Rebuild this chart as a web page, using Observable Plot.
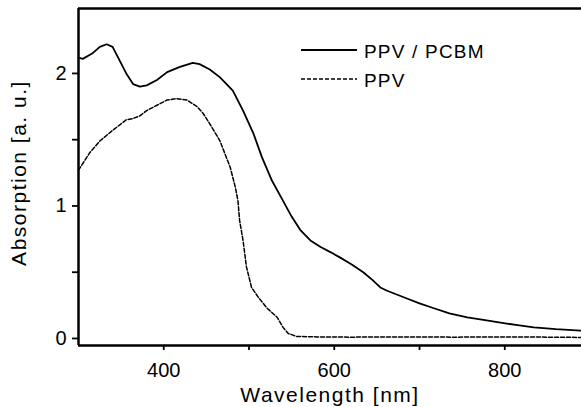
<!DOCTYPE html>
<html>
<head>
<meta charset="utf-8">
<script src="https://cdn.jsdelivr.net/npm/d3@7"></script>
<script src="https://cdn.jsdelivr.net/npm/@observablehq/plot@0.6"></script>
<style>
  html, body { margin: 0; padding: 0; background: #fff; }
  svg text { font-family: "Liberation Sans", Arial, sans-serif; }
</style>
</head>
<body>
<div id="chart"></div>
<script>
// PPV / PCBM (solid)
const wlBlend = [300,305,316,325,333,340,348,356,364,372,380,392,404,419,434,442,454,466,481,493,505,515,527,539,550,560,572,584,596,607,620,634,645,654,662,674,686,700,716,735,756,775,795,815,834,860,889];
const absBlend = [2.12,2.11,2.15,2.20,2.22,2.20,2.10,2.00,1.92,1.90,1.91,1.95,2.01,2.05,2.08,2.07,2.03,1.97,1.87,1.72,1.55,1.37,1.19,1.05,0.92,0.82,0.74,0.69,0.65,0.61,0.56,0.50,0.44,0.385,0.36,0.33,0.30,0.265,0.23,0.19,0.16,0.14,0.12,0.10,0.083,0.07,0.06];
// PPV (dashed)
const wlPPV = [300,313,325,340,356,364,372,380,392,404,415,427,439,446,454,466,478,484,487,489,493,497,503,511,521,533,540,546,556,580,620,680,740,800,850,889];
const absPPV = [1.27,1.40,1.49,1.57,1.65,1.66,1.68,1.72,1.76,1.80,1.81,1.80,1.75,1.70,1.62,1.49,1.29,1.14,1.04,0.89,0.74,0.54,0.385,0.31,0.23,0.16,0.083,0.038,0.015,0.012,0.01,0.012,0.01,0.012,0.01,0.008];

const xMajor = [400, 600, 800];
const xMinor = [500, 700];
const yMajor = [0, 1, 2];
const yMinor = [0.5, 1.5];
const xDomain = [300, 890];
const yDomain = [-0.053, 2.49];
const seriesNames = ["PPV / PCBM", "PPV"];
const xTitle = "Wavelength [nm]";
const yTitle = "Absorption [a. u.]";

const blend = wlBlend.map((w, i) => ({w, a: absBlend[i]}));
const ppv = wlPPV.map((w, i) => ({w, a: absPPV[i]}));

const chart = Plot.plot({
  width: 581,
  height: 407,
  marginLeft: 78,
  marginRight: 0,
  marginTop: 8,
  marginBottom: 62,
  x: {domain: xDomain},
  y: {domain: yDomain},
  style: {fontFamily: "Liberation Sans, Arial, sans-serif", color: "black", background: "white"},
  marks: [
    Plot.axisX({ticks: xMajor, tickSize: 5, tickPadding: 12, fontSize: 20, strokeWidth: 1.8, label: null, tickFormat: d => String(d)}),
    Plot.axisX({ticks: xMinor, tickSize: 5, strokeWidth: 1.8, label: null, tickFormat: () => ""}),
    Plot.axisY({ticks: yMajor, tickSize: 6, tickPadding: 6, fontSize: 20, strokeWidth: 1.8, label: null, tickFormat: d => String(d)}),
    Plot.axisY({ticks: yMinor, tickSize: 6, strokeWidth: 1.8, label: null, tickFormat: () => ""}),
    Plot.ruleX([xDomain[0]], {strokeWidth: 2.5}),
    Plot.ruleY([yDomain[0]], {strokeWidth: 2.5}),
    Plot.ruleY([yDomain[1]], {strokeWidth: 2.5}),
    Plot.line(blend, {x: "w", y: "a", stroke: "black", strokeWidth: 1.8}),
    Plot.line(ppv, {x: "w", y: "a", stroke: "black", strokeWidth: 1.5, strokeDasharray: "4,2"}),
    Plot.text([xTitle], {frameAnchor: "bottom", text: d => d, dy: 50, lineAnchor: "middle", textAnchor: "middle", fontSize: 21, fill: "black"}),
    Plot.text([yTitle], {frameAnchor: "left", text: d => d, dx: -59, dy: -4, rotate: -90, lineAnchor: "middle", textAnchor: "middle", fontSize: 21, fill: "black"})
  ]
});

// legend
const svg = d3.select(chart);
const leg = svg.append("g").attr("text-anchor", "start");
const rows = [{name: seriesNames[0], y: 50, dash: null, w: 1.8}, {name: seriesNames[1], y: 79, dash: "4,2", w: 1.5}];
rows.forEach(r => {
  leg.append("line").attr("x1", 301).attr("x2", 357).attr("y1", r.y).attr("y2", r.y)
    .attr("stroke", "black").attr("stroke-width", r.w).attr("stroke-dasharray", r.dash);
  leg.append("text").attr("x", 364).attr("y", r.y + 8).attr("font-size", 19)
    .attr("text-anchor", "start")
    .attr("letter-spacing", "1.2px").attr("fill", "black").text(r.name);
});
svg.selectAll("text").filter(function() { return this.textContent === xTitle || this.textContent === yTitle; })
  .attr("letter-spacing", "1.5px");

document.getElementById("chart").appendChild(chart);
</script>
</body>
</html>
